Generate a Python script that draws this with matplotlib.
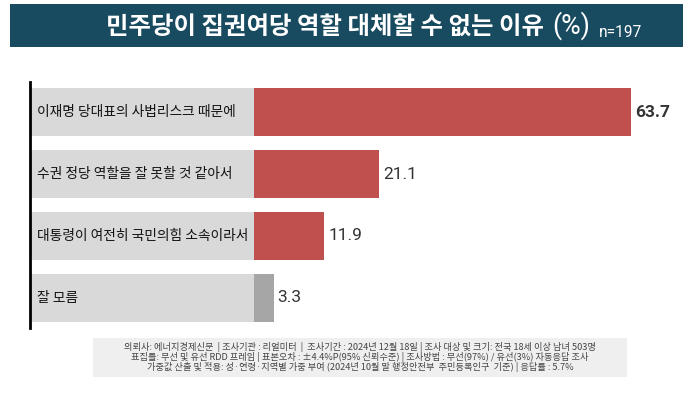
import matplotlib
matplotlib.use("Agg")
import matplotlib.pyplot as plt
from matplotlib.patches import Rectangle

plt.rcParams['font.family'] = ['Noto Sans CJK KR', 'DejaVu Sans']

categories = ["이재명 당대표의 사법리스크 때문에", "수권 정당 역할을 잘 못할 것 같아서",
              "대통령이 여전히 국민의힘 소속이라서", "잘 모름"]
values = [63.7, 21.1, 11.9, 3.3]
bar_colors = ["#c0504d", "#c0504d", "#c0504d", "#a6a6a6"]
value_bold = [True, False, False, False]
title = "민주당이 집권여당 역할 대체할 수 없는 이유"
title_unit = "(%)"
sample = "n=197"
footnote = ["의뢰사: 에너지경제신문  | 조사기관 : 리얼미터  |  조사기간 : 2024년 12월 18일 | 조사 대상 및 크기: 전국 18세 이상 남녀 503명",
            "표집틀: 무선 및 유선 RDD 프레임 | 표본오차 : ±4.4%P(95% 신뢰수준) | 조사방법 : 무선(97%) / 유선(3%) 자동응답 조사",
            "가중값 산출 및 적용: 성·연령·지역별 가중 부여 (2024년 10월 말 행정안전부  주민등록인구  기준) | 응답률 : 5.7%"]

W, H = 687, 393
fig = plt.figure(figsize=(W / 100, H / 100), dpi=100)
fig.patch.set_facecolor("white")
renderer = fig.canvas.get_renderer()

def px(x, y):
    return x / W, 1 - y / H

def fit(t, target_w, max_size=None):
    for _ in range(3):
        w = t.get_window_extent(renderer).width
        s = t.get_fontsize() * target_w / w
        if max_size is not None:
            s = min(s, max_size)
        t.set_fontsize(s)
    return t.get_fontsize()

# Title banner
fig.patches.append(Rectangle(px(10, 47), (683 - 10) / W, (47 - 4) / H,
                             transform=fig.transFigure, facecolor="#184a60",
                             edgecolor="none", zorder=0))
t = fig.text(*px(106, 27), title, color="white", fontsize=17, fontweight="bold",
             ha="left", va="center")
fit(t, 438)
t = fig.text(*px(590, 26), title_unit, color="white", fontsize=18,
             ha="right", va="center", family=["Roboto", "DejaVu Sans"])
fit(t, 38)
t = fig.text(*px(599, 37), sample, color="white", fontsize=11, ha="left", va="baseline",
             family=["Roboto", "DejaVu Sans"])
fit(t, 43)

# Main axes: pixel x 30..683, y 82..328
scale = 5.92  # px per unit
x0 = 254
left_px, right_px = 30, 683
ax = fig.add_axes([left_px / W, 1 - 328 / H, (right_px - left_px) / W, (328 - 82) / H])
xmin = -(x0 - left_px) / scale
xmax = (right_px - x0) / scale
ax.set_xlim(xmin, xmax)
ax.set_ylim(3.484, -0.484)
ypos = list(range(len(categories)))
h = 48 / 62
ax.barh(ypos, [-xmin] * len(categories), left=xmin, height=h, color="#d9d9d9", zorder=1)
ax.barh(ypos, values, left=0, height=h, color=bar_colors, zorder=2)

cat_texts = []
val_texts = []
for y, cat, v, b in zip(ypos, categories, values, value_bold):
    cat_texts.append(ax.text(xmin + 7 / scale, y, cat, fontsize=10, ha="left",
                             va="center", color="#111111"))
    val_texts.append(ax.text(v + 4 / scale, y, f"{v:.1f}", fontsize=13, ha="left",
                             va="center", fontweight="bold" if b else "normal",
                             color="#333333", family=["Roboto", "DejaVu Sans"]))
cs = fit(cat_texts[0], 200)
for t in cat_texts:
    t.set_fontsize(cs)
vs = fit(val_texts[0], 35)
for t in val_texts:
    t.set_fontsize(vs)

for s in ["top", "right", "bottom"]:
    ax.spines[s].set_visible(False)
ax.spines["left"].set_linewidth(2)
ax.spines["left"].set_color("black")
ax.set_xticks([])
ax.set_yticks([])
ax.patch.set_alpha(0)

# Footnote box
fig.patches.append(Rectangle(px(93, 377), (627 - 93) / W, (377 - 338) / H,
                             transform=fig.transFigure, facecolor="#efefef",
                             edgecolor="none", zorder=0))
foot_texts = []
for i, line in enumerate(footnote):
    foot_texts.append(fig.text(*px(360, 347 + i * 10), line, fontsize=6.3,
                               ha="center", va="center", color="#444444"))
fs = fit(foot_texts[0], 474, max_size=6.8)
for t in foot_texts:
    t.set_fontsize(fs)

fig.savefig("out.png", dpi=100)
